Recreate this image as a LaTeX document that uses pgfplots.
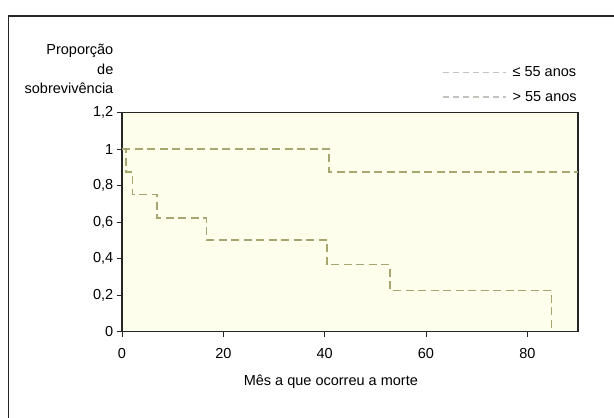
\documentclass[border=0pt]{standalone}
\usepackage{fontspec}
\setmainfont{Liberation Sans}
\usepackage{pgfplots}
\pgfplotsset{compat=1.18}
\definecolor{kmline}{RGB}{168,166,112}
\definecolor{legline}{RGB}{196,196,190}
\definecolor{bgfill}{RGB}{254,254,236}
\begin{document}
\begin{tikzpicture}
\path[use as bounding box] (0pt,0pt) rectangle (614pt,418pt);
% frame of the scanned figure
\draw[line width=1.8pt,black!85] (8.5pt,0pt) -- (8.5pt,402pt) -- (614pt,402pt);
\begin{axis}[
    at={(122pt,86.3pt)}, anchor=south west,
    scale only axis,
    width=456pt, height=219pt,
    xmin=0, xmax=90, ymin=0, ymax=1.2,
    xtick={0,20,...,80},
    ytick={0,0.2,...,1.2},
    tick pos=left,
    tick align=outside,
    major tick length=5pt,
    tick style={black!85, line width=0.9pt},
    axis line style={black!85, line width=1.2pt},
    axis background/.style={fill=bgfill},
    /pgf/number format/assume math mode=true,
    /pgf/number format/use comma,
    ticklabel style={font=\fontsize{14.5}{17}\selectfont},
    yticklabel style={anchor=east, inner sep=0pt, xshift=-3.5pt},
    xticklabel style={anchor=north, inner sep=0pt, yshift=-11pt},
    xlabel={Mês a que ocorreu a morte},
    xlabel style={font=\fontsize{14.5}{17}\selectfont, at={(axis description cs:0.458,-0.2466)}, anchor=base, inner sep=0pt},
    ylabel={Proporção\\de\\sobrevivência},
    ylabel style={rotate=-90, align=right, font=\fontsize{14.5}{19.5}\selectfont,
        at={(axis description cs:-0.0186,1.084)}, anchor=south east, inner sep=0pt},
    legend style={at={(axis description cs:1.002,1.035)}, anchor=south east,
        draw=none, fill=none, font=\fontsize{14.5}{17}\selectfont,
        row sep=9pt, inner sep=0pt,
        /tikz/every even column/.append style={column sep=0pt}},
    legend cell align=left,
    legend image code/.code={\draw[#1] (0pt,0pt) -- (63pt,0pt);},
]
\addlegendimage{legline, line width=1.4pt, dash pattern=on 6pt off 4pt}
\addlegendentry{\hspace{4pt}≤ 55 anos}
\addlegendimage{legline, line width=1.4pt, dash pattern=on 6pt off 4pt}
\addlegendentry{\hspace{4pt}> 55 anos}
% ≤ 55 anos
\addplot[forget plot, const plot, kmline, line width=1.5pt, dash pattern=on 8pt off 4.5pt] coordinates {
    (0,1) (40.9,0.875) (90,0.87)
};
% > 55 anos
\addplot[forget plot, const plot, kmline, line width=1.5pt, dash pattern=on 8pt off 4.5pt] coordinates {
    (0,1) (0.8,0.875) (2.1,0.752) (6.9,0.622) (16.7,0.502) (40.5,0.367) (52.9,0.225) (84.8,0)
};
\end{axis}
\end{tikzpicture}
\end{document}
